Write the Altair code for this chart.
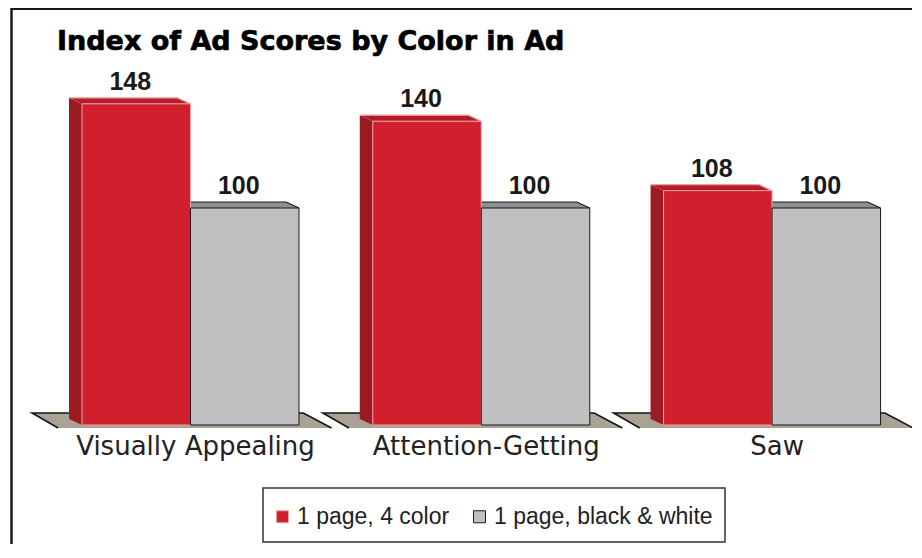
import altair as alt
import pandas as pd

# ---------------- data ----------------
categories = ["Visually Appealing", "Attention-Getting", "Saw"]
series = ["1 page, 4 color", "1 page, black & white"]
color_scores = [148, 140, 108]
bw_scores = [100, 100, 100]
title_text = "Index of Ad Scores by Color in Ad"

# ---------------- style / geometry ----------------
PLOT_W, PLOT_H = 904, 536
SLOT_PX = 108.5          # pixels per bar slot
X0_PX = 74               # plot x of first bar's front-left edge
PX_PER_UNIT = 2.17       # pixels per index point
Y0_PX = 417              # plot y of the zero line
GROUP_STEP = 2.68        # slots between groups
BAR_W = 1.0              # slots
DX = 13 / SLOT_PX        # 3D depth, horizontal (slots)
DY = 6 / PX_PER_UNIT     # 3D depth, vertical (index units)
FLOOR_BACK = 12 / PX_PER_UNIT
FLOOR_FRONT = -3 / PX_PER_UNIT
FLOOR_BACK_L, FLOOR_BACK_R = -0.46, 2.04
FLOOR_FRONT_L, FLOOR_FRONT_R = -0.22, 2.30

RED, RED_SIDE, RED_TOP, RED_EDGE = "#d0202e", "#9d1a23", "#b41c28", "#eea3a8"
GREY, GREY_SIDE, GREY_TOP, GREY_EDGE = "#bec0c1", "#8c8f90", "#8c8f90", "#1a1a1a"
FLOOR, FLOOR_EDGE = "#aba296", "#141414"
SIDE_COLORS = [RED_SIDE, GREY_SIDE]
TOP_COLORS = [RED_TOP, GREY_TOP]
EDGE_COLORS = [RED_EDGE, GREY_EDGE]

x_dom = [-X0_PX / SLOT_PX, (PLOT_W - X0_PX) / SLOT_PX]
y_dom = [-(PLOT_H - Y0_PX) / PX_PER_UNIT, Y0_PX / PX_PER_UNIT]
xs = alt.Scale(domain=x_dom, nice=False, zero=False)
ys = alt.Scale(domain=y_dom, nice=False, zero=False)

# ---------------- tables ----------------
bars, sides, tops, top_edges = [], [], [], []
for i, cat in enumerate(categories):
    for j, (s, v) in enumerate(zip(series, [color_scores[i], bw_scores[i]])):
        x0 = i * GROUP_STEP + j * BAR_W
        x1 = x0 + BAR_W
        bid = f"{i}-{j}"
        bars.append(dict(cat=cat, series=s, value=v, x0=x0, x1=x1, xc=(x0 + x1) / 2))
        sides.append(dict(bid=bid, series=s, x=x0 - DX, y=v + DY, y2=DY))
        sides.append(dict(bid=bid, series=s, x=x0, y=v, y2=0))
        tops.append(dict(bid=bid, series=s, y=v + DY, x=x0 - DX, x2=x1 - DX))
        tops.append(dict(bid=bid, series=s, y=v, x=x0, x2=x1))
        for k, (px, py) in enumerate([(x0 - DX, v + DY), (x1 - DX, v + DY), (x1, v)]):
            top_edges.append(dict(bid=bid, series=s, x=px, y=py, o=k))
bars = pd.DataFrame(bars)
sides = pd.DataFrame(sides)
tops = pd.DataFrame(tops)
top_edges = pd.DataFrame(top_edges)

floors, floor_edges, cats = [], [], []
for i, cat in enumerate(categories):
    g0 = i * GROUP_STEP
    floors.append(dict(g=i, y=FLOOR_BACK, x=g0 + FLOOR_BACK_L, x2=g0 + FLOOR_BACK_R))
    floors.append(dict(g=i, y=FLOOR_FRONT, x=g0 + FLOOR_FRONT_L, x2=g0 + FLOOR_FRONT_R))
    pts = [(g0 + FLOOR_FRONT_L, FLOOR_FRONT), (g0 + FLOOR_BACK_L, FLOOR_BACK),
           (g0 + FLOOR_BACK_R, FLOOR_BACK), (g0 + FLOOR_FRONT_R, FLOOR_FRONT)]
    for k, (px, py) in enumerate(pts):
        floor_edges.append(dict(g=i, x=px, y=py, o=k))
    cats.append(dict(cat=cat, x=g0 + BAR_W, y=0))
floors = pd.DataFrame(floors)
floor_edges = pd.DataFrame(floor_edges)
cats = pd.DataFrame(cats)

# ---------------- layers ----------------
floor_layer = alt.Chart(floors).mark_area(orient="horizontal", color=FLOOR).encode(
    y=alt.Y("y:Q", scale=ys, axis=None),
    x=alt.X("x:Q", scale=xs, axis=None, stack=None),
    x2="x2:Q",
    detail="g:N",
)
floor_line = alt.Chart(floor_edges).mark_line(color=FLOOR_EDGE, strokeWidth=1.6).encode(
    x=alt.X("x:Q", scale=xs, axis=None),
    y=alt.Y("y:Q", scale=ys, axis=None),
    detail="g:N",
    order="o:Q",
)

face_layers = []
for j, s in enumerate(series):
    side = alt.Chart(sides).transform_filter(alt.datum.series == s).mark_area(
        orient="vertical", color=SIDE_COLORS[j],
    ).encode(
        x=alt.X("x:Q", scale=xs, axis=None),
        y=alt.Y("y:Q", scale=ys, axis=None, stack=None),
        y2="y2:Q",
        detail="bid:N",
    )
    top = alt.Chart(tops).transform_filter(alt.datum.series == s).mark_area(
        orient="horizontal", color=TOP_COLORS[j],
    ).encode(
        y=alt.Y("y:Q", scale=ys, axis=None),
        x=alt.X("x:Q", scale=xs, axis=None, stack=None),
        x2="x2:Q",
        detail="bid:N",
    )
    edge = alt.Chart(top_edges).transform_filter(alt.datum.series == s).mark_line(
        color=EDGE_COLORS[j], strokeWidth=1.2,
    ).encode(
        x=alt.X("x:Q", scale=xs, axis=None),
        y=alt.Y("y:Q", scale=ys, axis=None),
        detail="bid:N",
        order="o:Q",
    )
    face_layers += [side, top, edge]

legend = alt.Legend(
    title=None, orient="none", legendX=263, legendY=497, direction="horizontal",
    symbolType="square", symbolSize=144, symbolStrokeWidth=1,
    labelFont="Liberation Sans", labelFontSize=23, labelColor="#222222", labelLimit=500,
    labelOffset=3, columnPadding=18, padding=0,
)
front_layer = alt.Chart(bars).mark_rect(strokeWidth=1).encode(
    x=alt.X("x0:Q", scale=xs, axis=None),
    x2="x1:Q",
    y=alt.Y("value:Q", scale=ys, axis=None),
    y2=alt.datum(0),
    color=alt.Color("series:N", scale=alt.Scale(domain=series, range=[RED, GREY]), legend=legend),
    stroke=alt.Stroke("series:N", scale=alt.Scale(domain=series, range=EDGE_COLORS), legend=legend),
)
value_labels = alt.Chart(bars).mark_text(
    font="Liberation Sans", fontSize=25, fontWeight="bold", color="#1a1a1a",
    baseline="alphabetic", dx=-6, dy=-14,
).encode(
    x=alt.X("xc:Q", scale=xs, axis=None),
    y=alt.Y("value:Q", scale=ys, axis=None),
    text="value:Q",
)
cat_labels = alt.Chart(cats).mark_text(
    font="DejaVu Sans", fontSize=26, color="#222222", baseline="alphabetic", dx=5, dy=30,
).encode(
    x=alt.X("x:Q", scale=xs, axis=None),
    y=alt.Y("y:Q", scale=ys, axis=None),
    text="cat:N",
)
title_layer = alt.Chart(pd.DataFrame({"t": [title_text]})).mark_text(
    font="DejaVu Sans", fontSize=27, fontWeight="bold", color="#000000",
    stroke="#000000", strokeWidth=0.7,
    align="left", baseline="alphabetic",
).encode(x=alt.value(49), y=alt.value(42), text="t:N")

one = pd.DataFrame({"a": [0]})
legend_box = alt.Chart(one).mark_rect(fill=None, stroke="#333333", strokeWidth=1.5).encode(
    x=alt.value(255), x2=alt.value(717), y=alt.value(480), y2=alt.value(534))
frame_left = alt.Chart(one).mark_rule(color="#1a1a1a", strokeWidth=2.5).encode(
    x=alt.value(3.5), y=alt.value(0), y2=alt.value(PLOT_H))
frame_top = alt.Chart(one).mark_rule(color="#1a1a1a", strokeWidth=2.5).encode(
    y=alt.value(0.8), x=alt.value(3.5), x2=alt.value(PLOT_W))

chart = alt.layer(
    floor_layer, floor_line, *face_layers, front_layer,
    value_labels, cat_labels, title_layer, legend_box, frame_left, frame_top,
).resolve_scale(color="independent", stroke="independent").properties(
    width=PLOT_W, height=PLOT_H, padding=0, autosize=alt.AutoSizeParams(type="none"),
    background="#ffffff",
).configure_view(stroke=None)

chart.save("out.html", embed_options={"renderer": "svg", "actions": False})
